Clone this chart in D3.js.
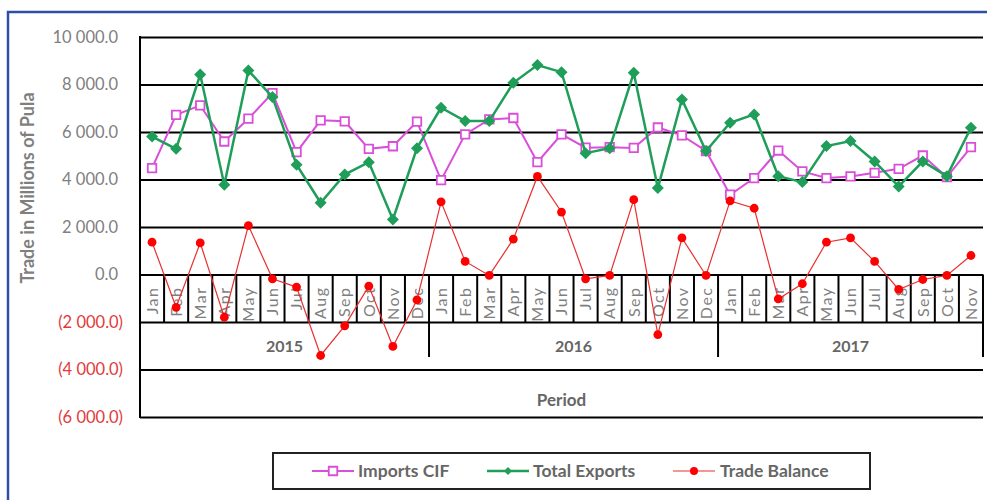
<!DOCTYPE html>
<html><head><meta charset="utf-8">
<script src="https://cdn.jsdelivr.net/npm/d3@7"></script>
<style>body{margin:0;background:#fff} svg{display:block}</style>
</head><body>
<svg id="c" width="987" height="500"></svg>
<script>
const months = ["Jan","Feb","Mar","Apr","May","Jun","Jul","Aug","Sep","Oct","Nov","Dec",
                "Jan","Feb","Mar","Apr","May","Jun","Jul","Aug","Sep","Oct","Nov","Dec",
                "Jan","Feb","Mar","Apr","May","Jun","Jul","Aug","Sep","Oct","Nov"];
const periodYears = ["2015","2016","2017"];
const monthsPerYear = [12,12,11];
const importsCIF = [4480,6720,7120,5600,6560,7640,5150,6490,6450,5290,5400,6440,
                    3970,5900,6530,6590,4730,5900,5340,5360,5330,6190,5860,5200,
                    3360,4060,5220,4340,4060,4130,4280,4450,5010,4100,5360];
const totalExports = [5810,5290,8420,3780,8590,7470,4620,3020,4210,4730,2320,5320,
                      7020,6460,6460,8070,8820,8520,5110,5320,8490,3640,7370,5200,
                      6390,6740,4140,3890,5410,5620,4760,3710,4760,4140,6180];
const tradeBalance = [1360,-1380,1330,-1800,2060,-180,-530,-3410,-2160,-490,-3030,-1070,
                      3060,550,-40,1490,4130,2630,-180,-40,3150,-2530,1540,-40,
                      3100,2790,-1030,-390,1360,1540,550,-630,-210,-40,800];
const yTicks = [-6000,-4000,-2000,0,2000,4000,6000,8000,10000];
const seriesNames = ["Imports CIF","Total Exports","Trade Balance"];

const FONT = "Lato, 'Open Sans', sans-serif";
const svg = d3.select("#c");
const L = 140, R = 983, T = 37, B = 417;

// outer blue frame
svg.append("rect").attr("x",8).attr("y",12).attr("width",1000).attr("height",500)
  .attr("fill","none").attr("stroke","#2d4fa6").attr("stroke-width",2.5);

const idx = d3.range(months.length);
const x = d3.scaleBand().domain(idx).range([L,R]).padding(0);
const y = d3.scaleLinear().domain([-6000,10000]).range([B,T]);
const cx = i => x(i) + x.bandwidth()/2;

// gridlines
const grid = svg.append("g").attr("transform",`translate(${L},0)`)
  .call(d3.axisLeft(y).tickValues(yTicks).tickSize(-(R-L)).tickFormat(""));
grid.select(".domain").remove();
grid.selectAll("line").attr("stroke","#000").attr("stroke-width",2);

// left border
svg.append("line").attr("x1",L).attr("x2",L).attr("y1",T-1).attr("y2",B+1)
  .attr("stroke","#000").attr("stroke-width",2);

// y tick labels
const fmt = v => d3.format(",.1f")(Math.abs(v)).replace(/,/g," ");
const yAx = svg.append("g").attr("transform",`translate(123,0)`)
  .call(d3.axisLeft(y).tickValues(yTicks).tickSize(0).tickPadding(0)
    .tickFormat(v => v < 0 ? "(" + fmt(v) + ")" : fmt(v)));
yAx.select(".domain").remove();
yAx.selectAll("text")
  .attr("font-family",FONT).attr("font-size",16.5)
  .attr("fill", v => v < 0 ? "#e23a3a" : "#808080")
  .attr("x", v => v < 0 ? 0 : -5);

// category axis: month cells
const y0 = y(0), yM = y(-2000), yY = yM + 35;
const cat = svg.append("g");
const boundaries = d3.cumsum(monthsPerYear);
d3.range(1, months.length + 1).forEach(b => {
  const xb = b < months.length ? x(b) : R;
  const isYear = boundaries.includes(b);
  cat.append("line").attr("x1",xb).attr("x2",xb).attr("y1",y0)
    .attr("y2", isYear ? yY : yM).attr("stroke","#000").attr("stroke-width",2);
});
cat.selectAll("text.m").data(months).join("text").attr("class","m")
  .attr("transform",(d,i)=>`translate(${cx(i)},${y0+12}) rotate(-90)`)
  .attr("text-anchor","end").attr("dy","0.36em")
  .attr("font-family",FONT).attr("font-size",16).attr("letter-spacing",1.5)
  .attr("fill","#7f7f7f").text(d=>d);

// year labels
let start = 0;
periodYears.forEach((yr,k) => {
  const a = x(start), e = start + monthsPerYear[k] < months.length ? x(start+monthsPerYear[k]) : R;
  cat.append("text").attr("x",(a+e)/2).attr("y",yM+30).attr("text-anchor","middle")
    .attr("font-family",FONT).attr("font-weight","bold").attr("font-size",16)
    .attr("fill","#666").text(yr);
  start += monthsPerYear[k];
});

// axis titles
svg.append("text").attr("x",(L+R)/2).attr("y",406).attr("text-anchor","middle")
  .attr("font-family",FONT).attr("font-weight","bold").attr("font-size",17)
  .attr("fill","#666").text("Period");
svg.append("text").attr("transform","translate(34,188) rotate(-90)").attr("text-anchor","middle")
  .attr("font-family",FONT).attr("font-weight","bold").attr("font-size",18)
  .attr("fill","#7f7f7f").text("Trade in Millions of Pula");

// series
const colImp = "#d94fd9", colExp = "#1f9e5a", colTB = "#ff0000";
const line = d3.line().x((d,i)=>cx(i)).y(d=>y(d));
const square = d3.symbol().type(d3.symbolSquare).size(72);
const diamond = (s) => `M0,${-s}L${s},0L0,${s}L${-s},0Z`;

svg.append("path").datum(importsCIF).attr("d",line).attr("fill","none")
  .attr("stroke",colImp).attr("stroke-width",2);
svg.append("g").selectAll("path").data(importsCIF).join("path")
  .attr("transform",(d,i)=>`translate(${cx(i)},${y(d)})`).attr("d",square)
  .attr("fill","#fff").attr("stroke",colImp).attr("stroke-width",1.8);

svg.append("path").datum(totalExports).attr("d",line).attr("fill","none")
  .attr("stroke",colExp).attr("stroke-width",2.5);
svg.append("g").selectAll("path").data(totalExports).join("path")
  .attr("transform",(d,i)=>`translate(${cx(i)},${y(d)})`).attr("d",diamond(6))
  .attr("fill",colExp);

svg.append("path").datum(tradeBalance).attr("d",line).attr("fill","none")
  .attr("stroke","#e8302f").attr("stroke-width",1.2);
svg.append("g").selectAll("circle").data(tradeBalance).join("circle")
  .attr("cx",(d,i)=>cx(i)).attr("cy",d=>y(d)).attr("r",4.4).attr("fill",colTB);

// legend
const lg = svg.append("g");
lg.append("rect").attr("x",273).attr("y",453).attr("width",597).attr("height",36)
  .attr("fill","#fff").attr("stroke","#222").attr("stroke-width",2);
const ly = 471;
const legItems = [
  {name:seriesNames[0], x0:312, tx:358, col:colImp, w:2, mk:"sq"},
  {name:seriesNames[1], x0:487, tx:533, col:colExp, w:2.5, mk:"di"},
  {name:seriesNames[2], x0:673, tx:720, col:"#e8302f", w:1.2, mk:"ci"}
];
legItems.forEach(it => {
  lg.append("line").attr("x1",it.x0).attr("x2",it.x0+42).attr("y1",ly).attr("y2",ly)
    .attr("stroke",it.col).attr("stroke-width",it.w);
  const mx = it.x0+21;
  if (it.mk==="sq") lg.append("path").attr("transform",`translate(${mx},${ly})`).attr("d",square)
      .attr("fill","#fff").attr("stroke",colImp).attr("stroke-width",1.8);
  if (it.mk==="di") lg.append("path").attr("transform",`translate(${mx},${ly})`).attr("d",diamond(4))
      .attr("fill",colExp);
  if (it.mk==="ci") lg.append("circle").attr("cx",mx).attr("cy",ly).attr("r",4).attr("fill",colTB);
  lg.append("text").attr("x",it.tx).attr("y",ly).attr("dy","0.36em")
    .attr("font-family",FONT).attr("font-weight","bold").attr("font-size",17.5)
    .attr("fill","#666").text(it.name);
});
</script>
</body></html>
